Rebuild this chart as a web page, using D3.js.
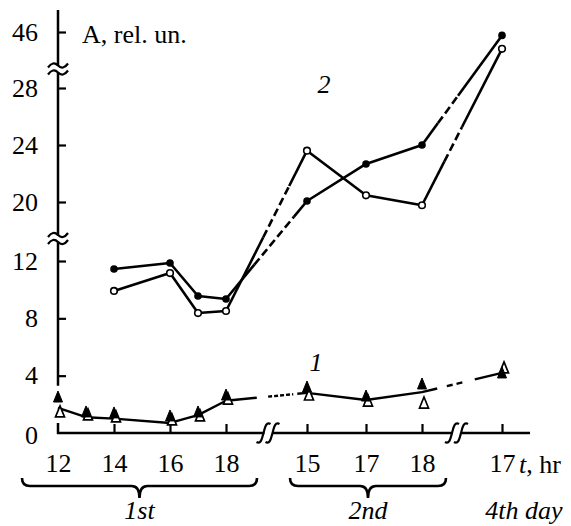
<!DOCTYPE html>
<html><head><meta charset="utf-8">
<script src="https://cdn.jsdelivr.net/npm/d3@7"></script>
<style>
body{margin:0;background:#fff}
svg{display:block}
text{font-family:"Liberation Serif","Times New Roman",serif;fill:#000}
</style>
</head><body>
<svg id="c" width="571" height="526"></svg>
<script>
// time coordinate: t = (day-1)*24 + hour
const xTickValues = [12, 14, 16, 18, 39, 41, 42, 89];
const xTickLabels = ["12", "14", "16", "18", "15", "17", "18", "17"];
const yTickValues = [0, 4, 8, 12, 20, 24, 28, 46];
const dayLabels = ["1st", "2nd", "4th day"];

// curve 2
const c2t      = [14, 16, 17, 18, 39, 41, 42, 89];
const c2Filled = [11.44, 11.86, 9.56, 9.35, 20.07, 22.67, 24.0, 44.9];
const c2Open   = [9.91, 11.16, 8.37, 8.51, 23.6, 20.47, 19.56, 40.6];

// curve 1
const c1t      = [12, 13, 14, 16, 17, 18, 39, 41, 42, 89];
const c1Line   = [1.75, 1.1, 1.0, 0.7, 1.25, 2.25, 2.8, 2.3, 2.85, 4.2];
const c1Filled = [2.44, 1.4, 1.33, 1.12, 1.4, 2.58, 3.14, 2.51, 3.35, 4.12];
const c1Open   = [1.4, 1.19, 1.05, 0.84, 1.12, 2.3, 2.58, 2.16, 2.02, 4.47];

const svg = d3.select("#c");
const FS = 26;

const x = d3.scaleLinear().domain([12, 18, 39, 41, 42, 89]).range([58, 226, 307, 366, 422, 502]);
const y = d3.scaleLinear().domain([0, 12, 20, 28, 46]).range([433, 261, 202, 88, 32]);

const x0 = x(12), y0 = y(0);

// ---- Y axis
const yAx = svg.append("g").attr("transform", `translate(${x0},0)`)
  .call(d3.axisLeft(y).tickValues(yTickValues.filter(v => v > 0)).tickSize(-8).tickPadding(20).tickFormat(d3.format("d")));
yAx.select(".domain").remove();
yAx.selectAll(".tick line").attr("stroke", "#000").attr("stroke-width", 2.2);
yAx.selectAll(".tick text").attr("font-size", FS).attr("font-family", "Liberation Serif").attr("fill", "#000");
svg.append("text").attr("x", x0 - 20).attr("y", y0 + 3).attr("dy", "0.32em").attr("text-anchor", "end")
  .attr("font-size", FS).text("0");

svg.append("line").attr("x1", x0).attr("x2", x0).attr("y1", y(46) - 22).attr("y2", y(4) + 10)
  .attr("stroke", "#000").attr("stroke-width", 2.5);
svg.append("line").attr("x1", x0).attr("x2", x0).attr("y1", y0 - 10).attr("y2", y0 + 1)
  .attr("stroke", "#000").attr("stroke-width", 2.5);

function yBreak(cy) {
  svg.append("rect").attr("x", x0 - 3).attr("y", cy - 3).attr("width", 6).attr("height", 6).attr("fill", "#fff");
  [-3.5, 3.5].forEach(o => {
    const c = cy + o;
    svg.append("path")
      .attr("d", `M${x0 - 10},${c + 2} Q${x0 - 5},${c - 5} ${x0},${c} T${x0 + 10},${c - 2}`)
      .attr("fill", "none").attr("stroke", "#000").attr("stroke-width", 2.2);
  });
}
yBreak((y(46) + y(28)) / 2 + 9);
yBreak((y(20) + y(12)) / 2 + 7);

// ---- X axis
const xAx = svg.append("g").attr("transform", `translate(0,${y0})`)
  .call(d3.axisBottom(x).tickValues(xTickValues).tickSize(-9).tickPadding(21)
    .tickFormat((d, i) => xTickLabels[i]));
xAx.select(".domain").remove();
xAx.selectAll(".tick line").attr("stroke", "#000").attr("stroke-width", 2.2);
xAx.selectAll(".tick text").attr("font-size", FS).attr("font-family", "Liberation Serif").attr("fill", "#000");
xAx.selectAll(".tick").filter(d => d === 12).select("line").remove();

svg.append("line").attr("x1", x0 - 1).attr("x2", x(89) + 28).attr("y1", y0).attr("y2", y0)
  .attr("stroke", "#000").attr("stroke-width", 2.5);

function xBreak(cx) {
  svg.append("rect").attr("x", cx - 4).attr("y", y0 - 3).attr("width", 8).attr("height", 6).attr("fill", "#fff");
  [-5, 4].forEach(o => {
    const c = cx + o;
    svg.append("path")
      .attr("d", `M${c - 7},${y0 + 9} C${c - 2},${y0 + 12} ${c - 1},${y0 + 3} ${c},${y0} C${c + 1},${y0 - 3} ${c + 2},${y0 - 12} ${c + 7},${y0 - 9}`)
      .attr("fill", "none").attr("stroke", "#000").attr("stroke-width", 2.2);
  });
}
xBreak((x(18) + x(39)) / 2 + 2);
xBreak((x(42) + x(89)) / 2 - 5);

// axis titles
svg.append("text").attr("x", x0 + 24).attr("y", 43).attr("font-size", FS).text("A, rel. un.");
const tl = svg.append("text").attr("x", x(89) + 17).attr("y", y0 + 40).attr("font-size", FS);
tl.append("tspan").attr("font-style", "italic").text("t");
tl.append("tspan").text(", hr");

// braces
function brace(xa, xb, yt, h) {
  const xm = (xa + xb) / 2, r = 8;
  const yl = yt + r;
  const p = `M${xa},${yt} Q${xa},${yl} ${xa + r},${yl} L${xm - r},${yl} Q${xm},${yl} ${xm},${yt + h}` +
            ` M${xb},${yt} Q${xb},${yl} ${xb - r},${yl} L${xm + r},${yl} Q${xm},${yl} ${xm},${yt + h}`;
  svg.append("path").attr("d", p).attr("fill", "none").attr("stroke", "#000").attr("stroke-width", 2.6);
  return xm;
}
const m1 = brace(x(12) - 36, x(18) + 31, 478, 20);
const m2 = brace(x(39) - 17, x(42) + 24, 478, 20);
svg.append("text").attr("x", m1).attr("y", 519).attr("text-anchor", "middle").attr("font-size", FS)
  .attr("font-style", "italic").text(dayLabels[0]);
svg.append("text").attr("x", m2).attr("y", 519).attr("text-anchor", "middle").attr("font-size", FS)
  .attr("font-style", "italic").text(dayLabels[1]);
svg.append("text").attr("x", x(89) + 22).attr("y", 519).attr("text-anchor", "middle").attr("font-size", FS)
  .attr("font-style", "italic").text(dayLabels[2]);

// ---- line helpers
function pieceLine(xa, ya, xb, yb, pieces, sw) {
  pieces.forEach(([f0, f1, dash]) => {
    svg.append("line")
      .attr("x1", xa + (xb - xa) * f0).attr("y1", ya + (yb - ya) * f0)
      .attr("x2", xa + (xb - xa) * f1).attr("y2", ya + (yb - ya) * f1)
      .attr("stroke", "#000").attr("stroke-width", sw)
      .attr("stroke-dasharray", dash || null);
  });
}
const line = d3.line().x(d => x(d[0])).y(d => y(d[1]));

function drawSeries(ts, vs, gapStyles, sw) {
  const pts = ts.map((t, i) => [t, vs[i]]);
  const day = t => Math.floor((t - 1) / 24);
  let groups = [], cur = [pts[0]];
  for (let i = 1; i < pts.length; i++) {
    if (day(pts[i][0]) === day(pts[i - 1][0])) cur.push(pts[i]);
    else { groups.push(cur); cur = [pts[i]]; }
  }
  groups.push(cur);
  groups.forEach(g => {
    if (g.length > 1) svg.append("path").attr("d", line(g)).attr("fill", "none")
      .attr("stroke", "#000").attr("stroke-width", sw).attr("stroke-linejoin", "round");
  });
  for (let k = 0; k < groups.length - 1; k++) {
    const a = groups[k][groups[k].length - 1], b = groups[k + 1][0];
    pieceLine(x(a[0]), y(a[1]), x(b[0]), y(b[1]), gapStyles[k], sw);
  }
}

// curve 2
drawSeries(c2t, c2Filled, [
  [[0, 0.35], [0.35, 0.84, "8,4"], [0.84, 1]],
  [[0, 0.2], [0.2, 0.45, "8,4"], [0.45, 1]]
], 2.6);
drawSeries(c2t, c2Open, [
  [[0, 0.46], [0.46, 0.78, "8,4"], [0.78, 1]],
  [[0, 0.28], [0.28, 0.5, "8,4"], [0.5, 1]]
], 2.6);
svg.selectAll(".c2f").data(c2t.map((t, i) => [t, c2Filled[i]])).join("circle")
  .attr("cx", d => x(d[0])).attr("cy", d => y(d[1])).attr("r", 3.8).attr("fill", "#000");
svg.selectAll(".c2o").data(c2t.map((t, i) => [t, c2Open[i]])).join("circle")
  .attr("cx", d => x(d[0])).attr("cy", d => y(d[1])).attr("r", 3.3)
  .attr("fill", "#fff").attr("stroke", "#000").attr("stroke-width", 1.6);

// curve 1
drawSeries(c1t, c1Line, [
  [[0, 0.38], [0.52, 0.83, "4,2"], [0.88, 1]],
  [[0, 0.19], [0.31, 0.51, "6,4"], [0.66, 1]]
], 2.4);
const tri = (cx, cy) => `M${cx},${cy - 7} L${cx + 4.5},${cy + 4} L${cx - 4.5},${cy + 4} Z`;
svg.selectAll(".c1o").data(c1t.map((t, i) => [t, c1Open[i]])).join("path")
  .attr("d", d => tri(x(d[0]) + 2, y(d[1])))
  .attr("fill", "#fff").attr("stroke", "#000").attr("stroke-width", 1.7);
svg.selectAll(".c1f").data(c1t.map((t, i) => [t, c1Filled[i]])).join("path")
  .attr("d", d => tri(x(d[0]), y(d[1])))
  .attr("fill", "#000").attr("stroke", "#000").attr("stroke-width", 1);

// curve labels
svg.append("text").attr("x", x(39) + 9).attr("y", y(4) - 5).attr("text-anchor", "middle")
  .attr("font-size", FS).attr("font-style", "italic").text("1");
svg.append("text").attr("x", x(39) + 17).attr("y", y(28) + 5).attr("text-anchor", "middle")
  .attr("font-size", FS).attr("font-style", "italic").text("2");
</script>
</body></html>
